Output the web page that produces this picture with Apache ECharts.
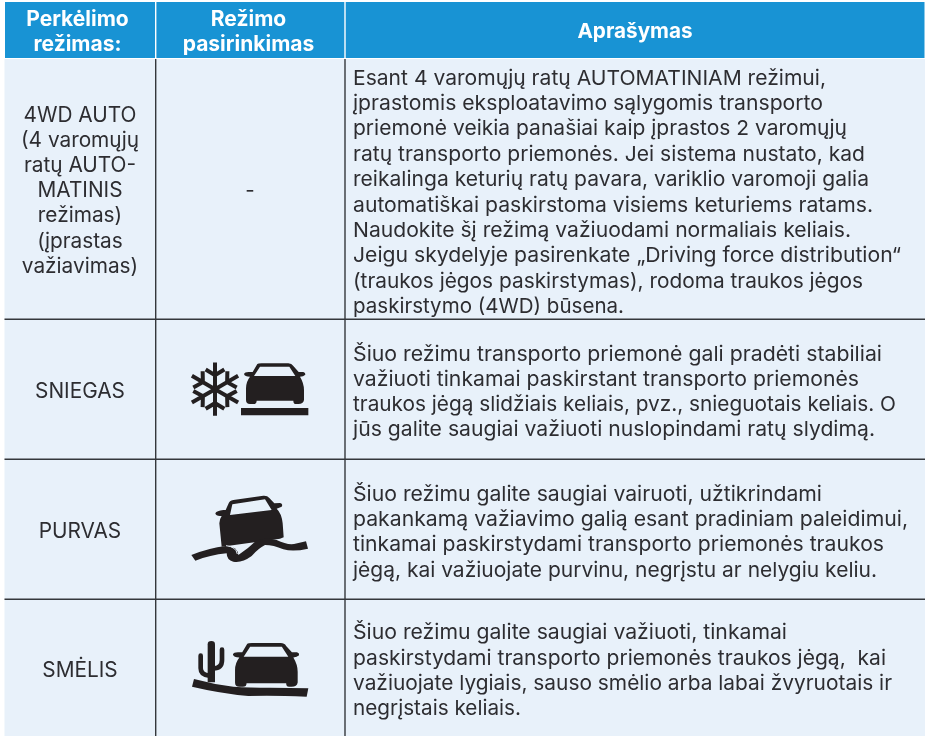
<!DOCTYPE html>
<html><head><meta charset="utf-8">
<style>html,body{margin:0;padding:0;background:#fff}#c{width:926px;height:736px}</style>
<script src="https://cdn.jsdelivr.net/npm/echarts@6/dist/echarts.min.js"></script>
</head><body><div id="c"></div>
<script>
const headers = [["Perkėlimo","režimas:"],["Režimo","pasirinkimas"],["Aprašymas"]];
const modes = [
  ["4WD AUTO","(4 varomųjų","ratų AUTO-","MATINIS","režimas)","(įprastas","važiavimas)"],
  ["SNIEGAS"],["PURVAS"],["SMĖLIS"]
];
const selections = ["-","","",""];
const descriptions = [
  ["Esant 4 varomųjų ratų AUTOMATINIAM režimui,","įprastomis eksploatavimo sąlygomis transporto","priemonė veikia panašiai kaip įprastos 2 varomųjų","ratų transporto priemonės. Jei sistema nustato, kad","reikalinga keturių ratų pavara, variklio varomoji galia","automatiškai paskirstoma visiems keturiems ratams.","Naudokite šį režimą važiuodami normaliais keliais.","Jeigu skydelyje pasirenkate „Driving force distribution“","(traukos jėgos paskirstymas), rodoma traukos jėgos","paskirstymo (4WD) būsena."],
  ["Šiuo režimu transporto priemonė gali pradėti stabiliai","važiuoti tinkamai paskirstant transporto priemonės","traukos jėgą slidžiais keliais, pvz., snieguotais keliais. O","jūs galite saugiai važiuoti nuslopindami ratų slydimą."],
  ["Šiuo režimu galite saugiai vairuoti, užtikrindami","pakankamą važiavimo galią esant pradiniam paleidimui,","tinkamai paskirstydami transporto priemonės traukos","jėgą, kai važiuojate purvinu, negrįstu ar nelygiu keliu."],
  ["Šiuo režimu galite saugiai važiuoti, tinkamai","paskirstydami transporto priemonės traukos jėgą,  kai","važiuojate lygiais, sauso smėlio arba labai žvyruotais ir","negrįstais keliais."]
];
// layout only
const lineEnds = [
  [826,823,847,865,869,873,851,901,863,624],
  [882,859,896,875],
  [822,908,884,877],
  [787,886,892,521]
];
const baselines = [86,362,502,640.5];
const leadings = [25.35,25.2,25.3,25.3];
const TEXT_X = 353;
const FONT = 'Inter', FS = 20.5;
const INK = '#2d2d31', BLUE = '#1893d4', PALE = '#e8f1fa', RULE = '#34373b';
const measure = document.createElement('canvas').getContext('2d');
measure.font = '400 '+FS+'px '+FONT;

const els = [];
els.push({type:'rect',shape:{x:5,y:2,width:919.5,height:56},style:{fill:BLUE}});
els.push({type:'rect',shape:{x:4.5,y:59,width:920.5,height:677},style:{fill:PALE}});
[155,344.3].forEach(x=>els.push({type:'rect',shape:{x,y:2,width:1.4,height:56},style:{fill:'#fff'}}));
[155,344.3].forEach(x=>els.push({type:'rect',shape:{x,y:59,width:1.4,height:677},style:{fill:RULE}}));
[318.4,458.4,598.4].forEach(y=>els.push({type:'rect',shape:{x:4.5,y,width:920.5,height:1.6},style:{fill:RULE}}));
function T(text,x,y,o,extra){return Object.assign({type:'text',x,y,style:Object.assign({text,fill:INK,font:'400 '+FS+'px '+FONT,verticalAlign:'middle',align:'center'},o||{})},extra||{});}
const centers=[77.5,248.5,635];
headers.forEach((h,i)=>h.forEach((t,j)=>{
  const y = h.length===1?32:[20,45][j];
  els.push(T(t,centers[i],y,{fill:'#fff',font:'700 '+(h.length===1?20.7:21)+'px '+FONT}));
}));
const rowMid=[191,392,532,671];
modes.forEach((m,r)=>m.forEach((t,j)=>{
  els.push(T(t,80,rowMid[r]+(j-(m.length-1)/2)*25.2,{font:'400 20.8px '+FONT}));
}));
els.push(T(selections[0],250,191,{}));
descriptions.forEach((d,r)=>d.forEach((t,j)=>{
  const sx=(lineEnds[r][j]-TEXT_X)/measure.measureText(t).width;
  els.push(T(t,TEXT_X,baselines[r]+j*leadings[r]-0.36*FS,{align:'left'},{scaleX:sx}));
}));

const carBody='M262 72Q264 70 275 70L355 70Q365 70 370 78L386 96L400 96Q407 98 406 104Q400 110 390 110Q402 130 402 150L402 180Q400 192 385 192L378 192Q370 192 370 182L260 182Q260 192 250 192L240 192Q228 192 228 180L228 145Q228 125 240 110Q224 110 222 102Q224 96 236 96L248 96ZM270 80L252 108L376 108L358 80Z';
const ink={fill:'#231f20'};
const arm={type:'path',shape:{pathData:'M0 0L0 -80M-28 -59L0 -42L28 -59'},style:{fill:null,stroke:'#231f20',lineWidth:12}};
function iconGroup(ox,oy,children){return {type:'group',x:ox,y:oy,scaleX:1/3,scaleY:1/3,children};}
const P=(d,style,extra)=>Object.assign({type:'path',shape:{pathData:d},style:style||ink},extra||{});
const icons=[
 iconGroup(170,340,[
   P(carBody),
   {type:'rect',shape:{x:213,y:204,width:202,height:22},style:ink},
   {type:'group',x:135,y:147.5,children:[0,1,2,3,4,5].map(i=>Object.assign({},arm,{rotation:i*Math.PI/3}))}
 ]),
 iconGroup(170,480,[
   P('M175 72Q178 62 190 60L280 47Q292 46 298 54L313 70L330 69Q340 72 335 80L320 86Q335 100 338 130L341 172L330 176L155 200L148 130Q148 118 155 108Q138 110 136 100Q140 92 160 90L167 90ZM187 73L180 105L305 90L285 58Z'),
   P('M64 225Q110 205 172 197L195 205Q205 215 205 225Q235 205 255 185Q280 170 320 180Q350 195 372 192L408 184L414 206Q370 216 340 208Q310 195 285 195Q265 205 245 228Q215 250 190 245Q170 240 170 220Q120 225 76 242Z'),
   P('M168 197Q198 200 202 222',{fill:null,stroke:PALE,lineWidth:3})
 ]),
 iconGroup(170,625,[
   {type:'group',x:288,y:52,scaleX:1.08,scaleY:1.075,children:[{type:'group',x:-314,y:-68,children:[P(carBody)]}]},
   P('M72 162Q130 178 190 185Q240 188 300 188L415 190L410 215Q300 210 235 213Q150 205 66 185Z'),
   P('M113 172L113 58Q113 48 124 48Q135 48 135 58L135 172Z'),
   P('M92 92L92 130Q92 150 118 152',{fill:null,stroke:'#231f20',lineWidth:14,lineCap:'round'}),
   P('M156 74L156 105Q156 130 130 130',{fill:null,stroke:'#231f20',lineWidth:14,lineCap:'round'})
 ])
];
const chart=echarts.init(document.getElementById('c'),null,{renderer:'canvas'});
chart.setOption({
  animation:false,
  graphic:{elements:els},
  xAxis:{show:false,min:0,max:1},yAxis:{show:false,min:0,max:1},
  grid:{left:0,right:0,top:0,bottom:0},
  series:[{type:'custom',coordinateSystem:'none',silent:true,z:10,data:icons.map((_,i)=>[i]),
    renderItem:(p)=>icons[p.dataIndex]}]
});
</script></body></html>
